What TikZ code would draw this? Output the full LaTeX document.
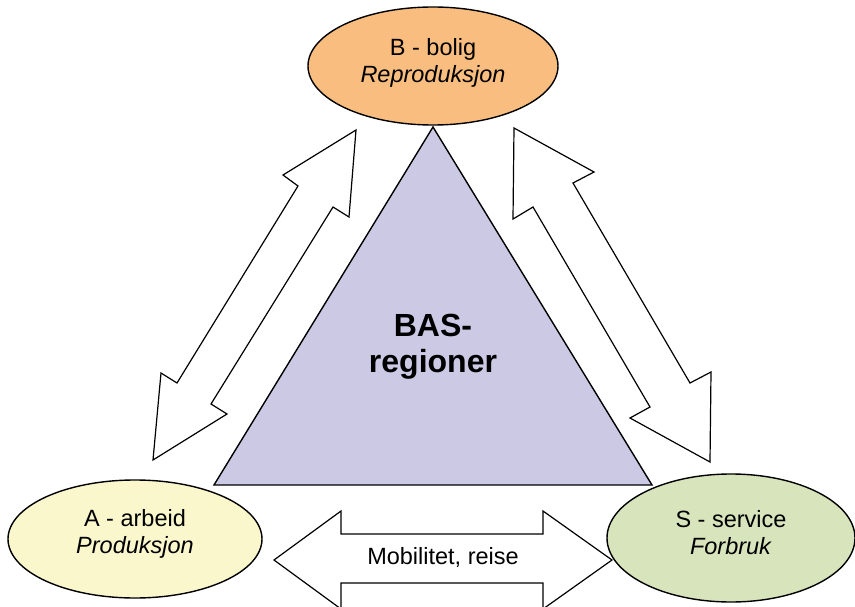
\documentclass[tikz,border=0pt]{standalone}
\usepackage{fontspec}
\setmainfont{Liberation Sans}
\usetikzlibrary{shapes.geometric}
\definecolor{bfill}{RGB}{249,190,127}
\definecolor{afill}{RGB}{250,247,204}
\definecolor{sfill}{RGB}{215,228,188}
\definecolor{tfill}{RGB}{204,201,228}
\begin{document}
\begin{tikzpicture}[x=1pt,y=-1pt,
  region/.style={draw=black,line width=1.4pt,ellipse,inner sep=0pt},
  regtext/.style={align=center,font=\fontsize{23.5}{27}\selectfont},
  blockarrow/.style={draw=black,line width=1.2pt,fill=white,line join=miter}]
\useasboundingbox (0,0) rectangle (855,607);
% triangle
\coordinate (T1) at (433,127);
\coordinate (T2) at (214,485);
\coordinate (T3) at (652,485);
\draw[fill=tfill,line width=1.4pt,line join=miter] (T1) -- (T2) -- (T3) -- cycle;
\node[font=\bfseries\fontsize{32}{36}\selectfont,align=center] (bas) at (433,347) {BAS-\\regioner};
% ellipses
\node[region,fill=bfill,minimum width=250pt,minimum height=118pt] (B) at (433,66) {};
\node[regtext] (Btxt) at ([yshift=3pt]B.center) {B - bolig\\\textit{Reproduksjon}};
\node[region,fill=afill,minimum width=254pt,minimum height=118pt] (A) at (135,539) {};
\node[regtext] (Atxt) at ([yshift=5pt]A.center) {A - arbeid\\\textit{Produksjon}};
\node[region,fill=sfill,minimum width=248pt,minimum height=128pt] (S) at (731,538) {};
\node[regtext] (Stxt) at ([yshift=5pt]S.center) {S - service\\\textit{Forbruk}};
% left double arrow
\draw[blockarrow] (356,130) -- (349,217) -- (333,207) -- (211,404) -- (227,414)
  -- (153,460) -- (161,373) -- (177,383) -- (298,186) -- (283,175) -- cycle;
% right double arrow
\draw[blockarrow] (514,128) -- (594,172) -- (573,183) -- (690,383) -- (711,372)
  -- (710,462) -- (630,418) -- (650,407) -- (533,207) -- (513,219) -- cycle;
% bottom double arrow
\draw[blockarrow] (274,560) -- (341,511) -- (341,534) -- (543,534) -- (543,511)
  -- (612,560) -- (543,609) -- (543,583) -- (341,583) -- (341,609) -- cycle;
\node[regtext] (mob) at (443,557) {Mobilitet, reise};
\end{tikzpicture}
\end{document}
